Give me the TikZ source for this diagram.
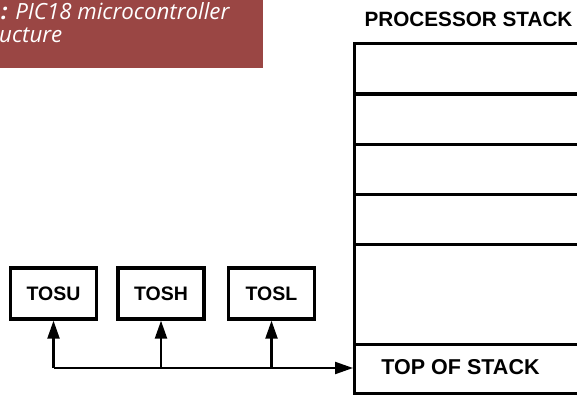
\documentclass[tikz,border=0pt]{standalone}
\usepackage{fontspec}
\setmainfont{Liberation Sans}
\newfontfamily\capfont{Open Sans}
\usetikzlibrary{arrows.meta}
\definecolor{capred}{HTML}{9A4644}
\begin{document}
\begin{tikzpicture}[x=1pt,y=-1pt,
  regbox/.style={draw,line width=3.3pt,minimum width=86pt,minimum height=51pt,inner sep=0pt,font=\bfseries\fontsize{19.5}{19.5}\selectfont},
  cell/.style={draw,line width=2.8pt,minimum width=260pt,minimum height=50pt,inner sep=0pt,anchor=north west},
  arr/.style={line width=2.2pt,-{Triangle[length=18pt,width=12pt]}},
  lbl/.style={font=\bfseries\fontsize{21}{21}\selectfont}]
\useasboundingbox (0,0) rectangle (577,395);
\clip (0,0) rectangle (577,395);
\fill[white] (0,0) rectangle (577,395);
% caption
\fill[capred] (0,0) rectangle (263,68);
\node[anchor=base west,inner sep=0pt,text=white,font=\capfont\itshape\fontsize{22.3}{22.3}\selectfont] (cap1) at (1,20) {\textbf{:} PIC18 microcontroller};
\node[anchor=base west,inner sep=0pt,text=white,font=\capfont\itshape\fontsize{22.3}{22.3}\selectfont] (cap2) at (-1,43) {ucture};
% stack
\node[lbl,font=\bfseries\fontsize{20.7}{20.7}\selectfont] (title) at (468.5,19) {PROCESSOR STACK};
\node[cell] (c1) at (353,42) {};
\node[cell] (c2) at (353,93) {};
\node[cell] (c3) at (353,143) {};
\node[cell] (c4) at (353,193) {};
\node[cell,minimum height=100pt] (c5) at (353,243) {};
\node[cell,minimum height=49pt,line width=3.2pt] (c6) at (353,343) {};
\node[lbl,font=\bfseries\fontsize{21.5}{21.5}\selectfont] (tos) at (460.5,367) {TOP OF STACK};
\coordinate (tosin) at (353,368);
% registers
\node[regbox] (tosu) at (53.5,293.5) {TOSU};
\node[regbox] (tosh) at (161,293.5) {TOSH};
\node[regbox] (tosl) at (271.5,293.5) {TOSL};
\coordinate (j1) at (tosu.south |- tosin);
\coordinate (j2) at (tosh.south |- tosin);
\coordinate (j3) at (tosl.south |- tosin);
\draw[arr] (j1) -- (tosin);
\draw[arr] (j1) -- (tosu.south);
\draw[arr] (j2) -- (tosh.south);
\draw[arr] (j3) -- (tosl.south);
\end{tikzpicture}
\end{document}
